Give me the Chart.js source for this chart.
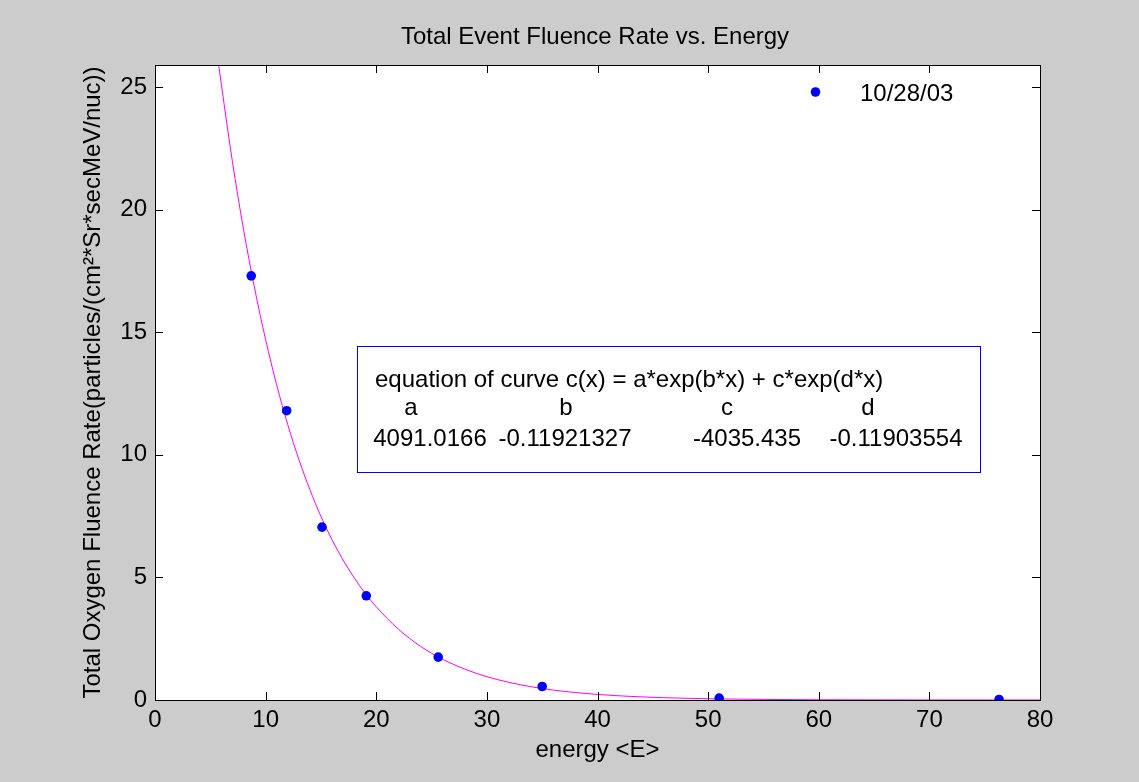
<!DOCTYPE html>
<html>
<head>
<meta charset="utf-8">
<title>Total Event Fluence Rate vs. Energy</title>
<script src="https://cdn.jsdelivr.net/npm/chart.js@4/dist/chart.umd.min.js"></script>
<style>
    html, body {
        margin: 0;
        padding: 0;
        background: #cccccc;
    }
    #wrap {
        width: 1139px;
        height: 782px;
    }
</style>
</head>
<body>
<div id="wrap">
    <canvas id="fluenceChart" width="1139" height="782"></canvas>
</div>
<script>
// measured points (10/28/03)
const energy = [8.7, 11.9, 15.1, 19.1, 25.6, 35.0, 51.0, 76.3];
const fluence = [17.3, 11.8, 7.05, 4.25, 1.75, 0.55, 0.08, 0.02];

// fitted curve
const curveX = [5.6, 6, 7, 8, 9, 10, 11, 12, 13, 14, 15, 16, 17, 18, 19, 20,
    22, 24, 26, 28, 30, 32, 34, 36, 38, 40, 43, 46, 50, 55, 60, 70, 80];
const curveY = [26.4, 25.1, 21.95, 19.2, 16.8, 14.7, 12.85, 11.23, 9.82, 8.58,
    7.49, 6.54, 5.71, 4.99, 4.35, 3.8, 2.89, 2.19, 1.66, 1.26, 0.95, 0.72,
    0.54, 0.405, 0.304, 0.227, 0.146, 0.093, 0.05, 0.023, 0.01, 0.001, 0];

const xTicks = [0, 10, 20, 30, 40, 50, 60, 70, 80];
const yTicks = [0, 5, 10, 15, 20, 25];

const chartTitle = "Total Event Fluence Rate vs. Energy";
const legendLabel = "10/28/03";
const equationLine = "equation of curve c(x) = a*exp(b*x) + c*exp(d*x)";
const coefNames = ["a", "b", "c", "d"];
const coefValues = ["4091.0166", "-0.11921327", "-4035.435", "-0.11903554"];

const FONT = "'Liberation Sans', Arial, Helvetica, sans-serif";

// gray figure, white axes, black box with inward ticks, title, legend, text box
const matlabAxes = {
    id: "matlabAxes",

    beforeDraw(chart) {
        const ctx = chart.ctx;
        const a = chart.chartArea;
        ctx.save();
        ctx.fillStyle = "#cccccc";
        ctx.fillRect(0, 0, chart.width, chart.height);
        ctx.fillStyle = "#ffffff";
        ctx.fillRect(a.left, a.top, a.right - a.left, a.bottom - a.top);
        ctx.restore();
    },

    afterDatasetsDraw(chart) {
        const ctx = chart.ctx;
        const a = chart.chartArea;
        const xs = chart.scales.x;
        const ys = chart.scales.y;
        const len = 8;

        ctx.save();
        ctx.strokeStyle = "#000000";
        ctx.lineWidth = 1;

        ctx.beginPath();
        xTicks.forEach(v => {
            const px = Math.round(xs.getPixelForValue(v)) + 0.5;
            ctx.moveTo(px, a.bottom);
            ctx.lineTo(px, a.bottom - len);
            ctx.moveTo(px, a.top);
            ctx.lineTo(px, a.top + len);
        });
        yTicks.forEach(v => {
            const py = Math.round(ys.getPixelForValue(v)) + 0.5;
            ctx.moveTo(a.left, py);
            ctx.lineTo(a.left + len, py);
            ctx.moveTo(a.right, py);
            ctx.lineTo(a.right - len, py);
        });
        ctx.stroke();

        ctx.strokeRect(Math.round(a.left) + 0.5, Math.round(a.top) + 0.5,
            Math.round(a.right - a.left), Math.round(a.bottom - a.top));

        ctx.font = "24px " + FONT;
        ctx.textBaseline = "alphabetic";

        // title
        ctx.fillStyle = "#000000";
        ctx.textAlign = "center";
        ctx.fillText(chartTitle, 595, 44);

        // legend
        const pts = chart.data.datasets[0];
        ctx.fillStyle = pts.backgroundColor;
        ctx.beginPath();
        ctx.arc(815.5, 92, 4.8, 0, Math.PI * 2);
        ctx.fill();
        ctx.fillStyle = "#000000";
        ctx.textAlign = "left";
        ctx.fillText(legendLabel, 860, 101);

        // equation box
        ctx.strokeStyle = "#0000ff";
        ctx.strokeRect(357.5, 346.5, 623, 126);
        ctx.fillStyle = "#000000";
        ctx.textAlign = "left";
        ctx.fillText(equationLine, 375, 387);
        const nameX = [411, 566, 727, 868];
        const valueX = [430, 565, 747, 896];
        ctx.textAlign = "center";
        coefNames.forEach((n, i) => ctx.fillText(n, nameX[i], 415));
        coefValues.forEach((v, i) => ctx.fillText(v, valueX[i], 446));
        ctx.restore();
    }
};

new Chart(
    document.getElementById("fluenceChart"),
    {
        type: "scatter",

        data: {
            datasets: [
                {
                    label: legendLabel,
                    data: energy.map((e, i) => ({ x: e, y: fluence[i] })),
                    backgroundColor: "#0000ff",
                    borderColor: "#0000ff",
                    pointRadius: 4.8,
                    pointHoverRadius: 4.8,
                    borderWidth: 0,
                    showLine: false,
                    order: 0
                },
                {
                    label: "fit",
                    data: curveX.map((e, i) => ({ x: e, y: curveY[i] })),
                    borderColor: "#ff00ff",
                    borderWidth: 1,
                    pointRadius: 0,
                    showLine: true,
                    cubicInterpolationMode: "monotone",
                    order: 1
                }
            ]
        },

        options: {
            responsive: false,
            animation: false,
            events: [],

            layout: {
                padding: { left: 0, right: 99, top: 65, bottom: 0 }
            },

            plugins: {
                legend: { display: false },
                tooltip: { enabled: false },
                title: { display: false }
            },

            scales: {
                x: {
                    type: "linear",
                    min: 0,
                    max: 80,
                    afterFit: scale => { scale.height = 82; },
                    afterBuildTicks: scale => {
                        scale.ticks = xTicks.map(v => ({ value: v }));
                    },
                    grid: { display: false, drawTicks: false },
                    border: { display: false },
                    ticks: {
                        color: "#000000",
                        padding: 6,
                        maxRotation: 0,
                        font: { family: FONT, size: 24 }
                    },
                    title: {
                        display: true,
                        text: "energy <E>",
                        color: "#000000",
                        font: { family: FONT, size: 24, lineHeight: 1.2 },
                        padding: { top: 0, bottom: 17 }
                    }
                },
                y: {
                    type: "linear",
                    min: 0,
                    max: 25.9,
                    afterFit: scale => { scale.width = 155; },
                    afterBuildTicks: scale => {
                        scale.ticks = yTicks.map(v => ({ value: v }));
                    },
                    grid: { display: false, drawTicks: false },
                    border: { display: false },
                    ticks: {
                        color: "#000000",
                        padding: 8,
                        font: { family: FONT, size: 24 }
                    },
                    title: {
                        display: true,
                        text: "Total Oxygen Fluence Rate(particles/(cm\u00b2*Sr*secMeV/nuc))",
                        color: "#000000",
                        font: { family: FONT, size: 24, lineHeight: 1.2 },
                        padding: { top: 79, bottom: 0 }
                    }
                }
            }
        },

        plugins: [matlabAxes]
    }
);
</script>
</body>
</html>
